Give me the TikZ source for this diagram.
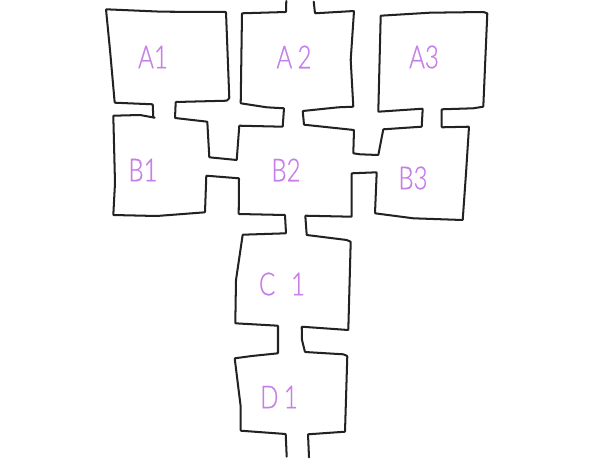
\documentclass[tikz,border=0pt]{standalone}
\usepackage{fontspec}
\newfontfamily\handfont[FakeStretch=0.76,FakeBold=0.7]{Lato Light}
\usetikzlibrary{positioning}

\definecolor{penpurple}{HTML}{C67FE6}
\definecolor{peninkblack}{HTML}{222222}

\begin{document}
\begin{tikzpicture}[
    x=0.04cm,
    y=-0.04cm,
    % Styles
    wall/.style={
        draw=peninkblack,
        line width=2.3pt,
        line join=round,
        line cap=round,
        rounded corners=0.6pt
    },
    roomlabel/.style={
        text=penpurple,
        inner sep=0pt,
        font=\handfont\fontsize{36}{36}\selectfont
    }
]

\useasboundingbox (0,0) rectangle (600,462);

% A1, left side of A2 and top of B2
\draw[wall] (153.3,117.3) -- (152.7,104.3) -- (114.7,102.7) -- (110,50) -- (106,9.3)
    -- (161.7,11.7) -- (226,12) -- (229.3,98.3) -- (226.7,100.7) -- (175.7,102)
    -- (175,118) -- (207.3,121.7) -- (209.3,157.3) -- (236.7,160) -- (239.3,125.7)
    -- (282.7,126.7) -- (284,108.3) -- (266.7,107.3) -- (240.7,103.3) -- (242,13.3)
    -- (286,12) -- (286.3,1);

% B1, left side of B2 and C1, D1
\draw[wall] (154.7,117.7) -- (140,115) -- (113.3,115.7) -- (115,183) -- (113.3,215)
    -- (156.7,216) -- (205,212.3) -- (206.3,175.7) -- (239,178.3) -- (238.7,214)
    -- (285,215) -- (286,233.3) -- (242.7,234.7) -- (236,280) -- (235.3,323.3)
    -- (278,325.7) -- (278,353.3) -- (251.7,356) -- (234.7,358.3) -- (240.7,406.7)
    -- (240.7,430.7) -- (285.7,434) -- (286.7,456.7);

% D1, C1, B3, A3 and right side of A2
\draw[wall] (309,457.3) -- (308,434.3) -- (345,431.7) -- (347.3,356) -- (343.3,354.3)
    -- (305,352) -- (302,340) -- (301.7,326.7) -- (348.3,330) -- (350.7,241.7)
    -- (346.7,240) -- (306.7,235) -- (305.3,215.7) -- (351.7,216.7) -- (351.7,173.3)
    -- (376.7,172.3) -- (375,213.3) -- (413.3,218.3) -- (462.7,220) -- (466,173.3)
    -- (469,126.7) -- (441.7,127.3) -- (441.7,109.3) -- (473.3,108.3) -- (483.3,106.7)
    -- (487.3,13.3) -- (483.3,12) -- (430,12.7) -- (380.7,15.7) -- (378.3,111.7)
    -- (422.7,108.7) -- (421.7,126.7) -- (383.3,129.3) -- (378.3,155) -- (360,154.3)
    -- (353.3,153.3) -- (354,130) -- (304,124.7) -- (302.7,111) -- (338.3,107.3)
    -- (353.3,106.7) -- (350.7,60) -- (354,11) -- (315,13.3) -- (313.7,1.7);

% Room labels
\node[roomlabel] (a1) at (153,57) {A1};
\node[roomlabel] (a2) at (294,57) {A\,2};
\node[roomlabel] (a3) at (424,57) {A3};
\node[roomlabel] (b1) at (143,170) {B1};
\node[roomlabel] (b2) at (286,170) {B2};
\node[roomlabel] (b3) at (413,178) {B3};
\node[roomlabel] (c1) at (282,284) {C\,\,\,1};
\node[roomlabel] (d1) at (279,397) {D\,1};

\end{tikzpicture}
\end{document}
